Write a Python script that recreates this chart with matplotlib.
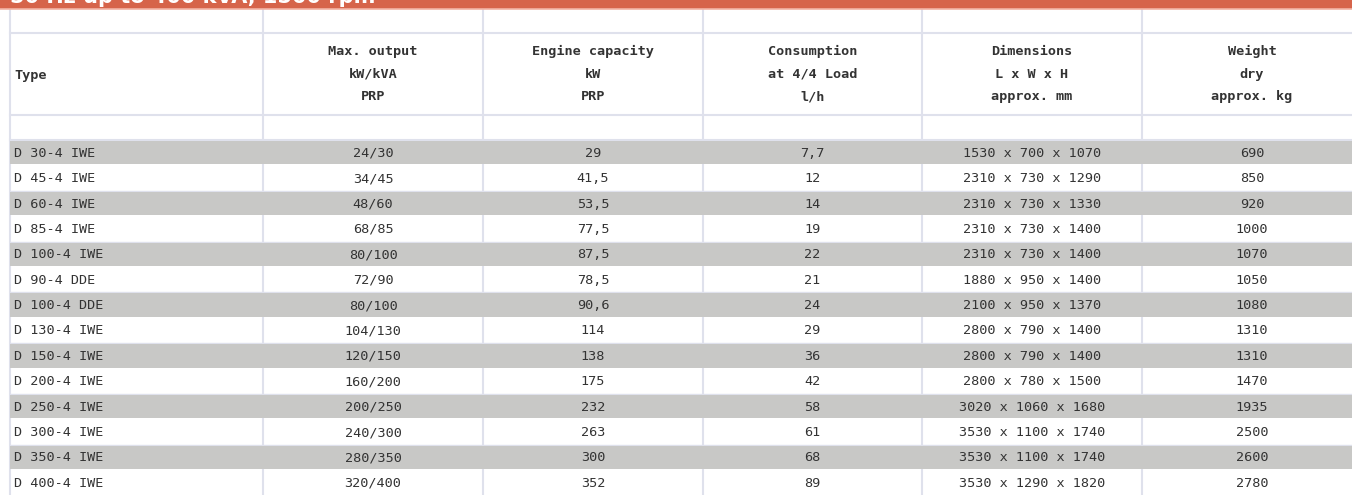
import matplotlib
matplotlib.use("Agg")
import matplotlib.pyplot as plt
from matplotlib.patches import Rectangle

title = "50 Hz up to 400 kVA, 1500 rpm"

headers = [
    "Type",
    "Max. output\nkW/kVA\nPRP",
    "Engine capacity\nkW\nPRP",
    "Consumption\nat 4/4 Load\nl/h",
    "Dimensions\nL x W x H\napprox. mm",
    "Weight\ndry\napprox. kg",
]

types = ["D 30-4 IWE", "D 45-4 IWE", "D 60-4 IWE", "D 85-4 IWE", "D 100-4 IWE",
         "D 90-4 DDE", "D 100-4 DDE", "D 130-4 IWE", "D 150-4 IWE", "D 200-4 IWE",
         "D 250-4 IWE", "D 300-4 IWE", "D 350-4 IWE", "D 400-4 IWE"]
output_kw = [24, 34, 48, 68, 80, 72, 80, 104, 120, 160, 200, 240, 280, 320]
output_kva = [30, 45, 60, 85, 100, 90, 100, 130, 150, 200, 250, 300, 350, 400]
engine_kw = ["29", "41,5", "53,5", "77,5", "87,5", "78,5", "90,6", "114", "138",
             "175", "232", "263", "300", "352"]
consumption = ["7,7", "12", "14", "19", "22", "21", "24", "29", "36", "42",
               "58", "61", "68", "89"]
dim_l = [1530, 2310, 2310, 2310, 2310, 1880, 2100, 2800, 2800, 2800, 3020, 3530, 3530, 3530]
dim_w = [700, 730, 730, 730, 730, 950, 950, 790, 790, 780, 1060, 1100, 1100, 1290]
dim_h = [1070, 1290, 1330, 1400, 1400, 1400, 1370, 1400, 1400, 1500, 1680, 1740, 1740, 1820]
weight = [690, 850, 920, 1000, 1070, 1050, 1080, 1310, 1310, 1470, 1935, 2500, 2600, 2780]

# layout in pixels
W, H = 1352, 495
col_x = [10, 263, 483, 703, 922, 1142, 1362]
top = 10
head_top, head_bot = 33, 115
data_top = 140
row_h = 25.4

orange = "#d6644a"
grey = "#c8c8c6"
line_c = "#dfe1ec"
txt_c = "#333333"
font = ["DejaVu Sans Mono"]
fs = 9.7

fig = plt.figure(figsize=(W / 100, H / 100), dpi=100)
ax = fig.add_axes([0, 0, 1, 1])
ax.set_xlim(0, W)
ax.set_ylim(H, 0)
ax.axis("off")

# title band (text cut off at the top as in the source)
ax.add_patch(Rectangle((0, -5), W, 13.5, color=orange, lw=0))
ax.plot([0, W], [9, 9], color="#f2b3a3", lw=1.2)
ax.text(10, 3, title, color="white", fontsize=15, fontweight="bold",
        family=["DejaVu Sans"], va="baseline", ha="left", clip_on=True)

rows = []
for i in range(len(types)):
    rows.append([types[i], f"{output_kw[i]}/{output_kva[i]}", engine_kw[i],
                 consumption[i], f"{dim_l[i]} x {dim_w[i]} x {dim_h[i]}",
                 str(weight[i])])

# grid lines
bottom = data_top + row_h * len(rows)
for x in col_x[:-1]:
    ax.plot([x, x], [top, bottom], color=line_c, lw=1.5, zorder=1)
for y in [head_top, head_bot, data_top]:
    ax.plot([col_x[0], W], [y, y], color=line_c, lw=1.5, zorder=1)

# header
for j, h in enumerate(headers):
    cy = (head_top + head_bot) / 2
    if j == 0:
        ax.text(col_x[0] + 4, cy + 1, h, ha="left", va="center", fontsize=fs,
                fontweight="bold", color=txt_c, family=font)
    else:
        cx = (col_x[j] + col_x[j + 1]) / 2
        ax.text(cx, cy, h, ha="center", va="center", fontsize=fs,
                fontweight="bold", color=txt_c, family=font, linespacing=1.95)

# data rows
for i, r in enumerate(rows):
    y0 = data_top + i * row_h
    if i % 2 == 0:
        ax.add_patch(Rectangle((col_x[0], y0 + 1), W - col_x[0], row_h - 2,
                               color=grey, lw=0, zorder=2))
    else:
        ax.plot([col_x[0], W], [y0 + row_h, y0 + row_h], color=line_c, lw=1, zorder=1)
    cy = y0 + row_h / 2 + 0.5
    for j, v in enumerate(r):
        if j == 0:
            ax.text(col_x[0] + 4, cy, v, ha="left", va="center", fontsize=fs,
                    color=txt_c, family=font, zorder=3)
        else:
            cx = (col_x[j] + col_x[j + 1]) / 2
            ax.text(cx, cy, v, ha="center", va="center", fontsize=fs,
                    color=txt_c, family=font, zorder=3)

fig.savefig("out.png", dpi=100)
